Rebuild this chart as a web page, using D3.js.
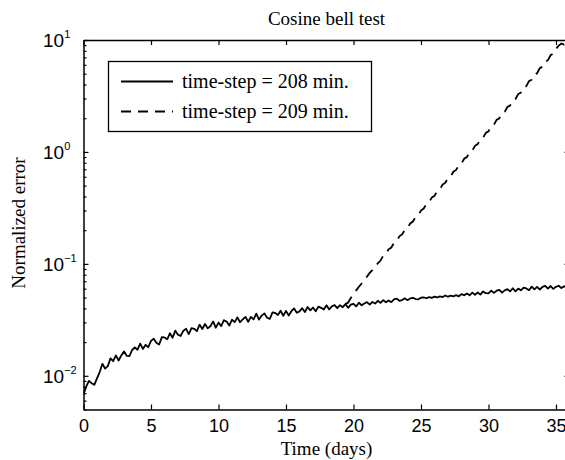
<!DOCTYPE html>
<html><head><meta charset="utf-8">
<script src="https://cdn.jsdelivr.net/npm/d3@7"></script>
<style>body{margin:0;background:#fff} svg{display:block}</style>
</head><body>
<svg id="chart" width="565" height="460"></svg>
<script>
const title = "Cosine bell test";
const xLabel = "Time (days)";
const yLabel = "Normalized error";
const seriesNames = ["time-step = 208 min.", "time-step = 209 min."];
const xTicks = [0, 5, 10, 15, 20, 25, 30, 35];
const yMajorExp = [-2, -1, 0, 1];
const dayStep = 0.2;
const start208 = 0;
const start209 = 19.4;
const error208 = [
0.0068,0.0080,0.0090,0.0086,0.0083,0.0095,0.0108,0.0128,0.0116,0.0122,
0.0143,0.0135,0.0152,0.0137,0.0152,0.0165,0.0151,0.0150,0.0170,0.0179,
0.0171,0.0194,0.0174,0.0189,0.0180,0.0205,0.0214,0.0197,0.0190,0.0221,
0.0220,0.0212,0.0240,0.0219,0.0253,0.0233,0.0227,0.0253,0.0263,0.0236,
0.0267,0.0263,0.0251,0.0286,0.0262,0.0290,0.0266,0.0277,0.0306,0.0269,
0.0299,0.0278,0.0314,0.0305,0.0281,0.0317,0.0302,0.0333,0.0301,0.0320,
0.0336,0.0304,0.0336,0.0319,0.0359,0.0318,0.0345,0.0361,0.0330,0.0323,
0.0368,0.0364,0.0349,0.0381,0.0344,0.0380,0.0346,0.0378,0.0400,0.0366,
0.0376,0.0402,0.0371,0.0412,0.0384,0.0407,0.0377,0.0415,0.0405,0.0391,
0.0426,0.0392,0.0418,0.0428,0.0402,0.0428,0.0410,0.0437,0.0405,0.0432,
0.0440,0.0417,0.0450,0.0427,0.0443,0.0455,0.0432,0.0457,0.0442,0.0468,
0.0448,0.0474,0.0454,0.0471,0.0455,0.0481,0.0489,0.0468,0.0475,0.0492,
0.0474,0.0491,0.0498,0.0485,0.0482,0.0499,0.0501,0.0493,0.0505,0.0497,
0.0509,0.0501,0.0513,0.0505,0.0522,0.0509,0.0521,0.0513,0.0525,0.0513,
0.0537,0.0524,0.0543,0.0524,0.0554,0.0530,0.0555,0.0531,0.0567,0.0547,
0.0545,0.0576,0.0551,0.0576,0.0585,0.0554,0.0580,0.0594,0.0568,0.0606,
0.0568,0.0601,0.0580,0.0613,0.0604,0.0582,0.0626,0.0592,0.0624,0.0590,
0.0622,0.0636,0.0602,0.0634,0.0598,0.0624,0.0638,0.0608,0.0632,0.0613,
0.0624
];
const error209 = [
0.0437,0.0452,0.0495,0.0540,0.0580,0.0625,0.0668,0.0720,0.0770,0.0830,
0.0880,0.0950,0.1010,0.1070,0.1181,0.1230,0.1349,0.1400,0.1541,0.1600,
0.1760,0.1830,0.2011,0.2090,0.2297,0.2390,0.2624,0.2720,0.2998,0.3120,
0.3424,0.3560,0.3912,0.4060,0.4469,0.4640,0.5105,0.5300,0.5832,0.6050,
0.6662,0.6900,0.7610,0.7880,0.8694,0.9000,0.9931,1.0300,1.1340,1.1750,
1.2960,1.3400,1.4800,1.5300,1.6910,1.7500,1.9320,2.0000,2.2070,2.2800,
2.5210,2.6000,2.8800,2.9700,3.2900,3.3900,3.7580,3.8700,4.2930,4.4200,
4.9050,5.0500,5.6030,5.7700,6.4000,6.6000,7.3110,7.5500,8.3500,8.9000,
9.3000,9.1000,9.6000,10.400
];

const x = d3.scaleLinear().domain([0, 36]).range([83.5, 569.5]);
const y = d3.scaleLog().domain([0.005, 10]).range([409.5, 40]);
const svg = d3.select("#chart");
const serif = "'Liberation Serif','Times New Roman',serif";
const sans = "'Liberation Sans',Arial,Helvetica,sans-serif";

svg.append("defs").append("clipPath").attr("id", "clip")
  .append("rect").attr("x", x(0)).attr("y", y(10)).attr("width", x(36) - x(0)).attr("height", y(0.005) - y(10));

const s208 = error208.map((v, i) => ({d: start208 + i * dayStep, v}));
const s209 = error209.map((v, i) => ({d: start209 + i * dayStep, v}));
const line = d3.line().x(p => x(p.d)).y(p => y(p.v));

const plot = svg.append("g").attr("clip-path", "url(#clip)");
plot.append("path").datum(s208).attr("d", line).attr("fill", "none")
  .attr("stroke", "#000").attr("stroke-width", 1.8).attr("stroke-linejoin", "round");
plot.append("path").datum(s209).attr("d", line).attr("fill", "none")
  .attr("stroke", "#000").attr("stroke-width", 1.8).attr("stroke-dasharray", "10,7");

const axStyle = g => { g.selectAll(".domain").attr("stroke", "#000").attr("stroke-width", 1.5);
  g.selectAll(".tick line").attr("stroke", "#000").attr("stroke-width", 1.2); };

const axBottom = svg.append("g").attr("transform", `translate(0,${y(0.005)})`)
  .call(d3.axisBottom(x).tickValues(xTicks).tickSizeInner(-5).tickSizeOuter(0).tickPadding(10).tickFormat(d3.format("d")));
axStyle(axBottom);
axBottom.selectAll(".tick text").attr("font-family", sans).attr("font-size", 18).attr("fill", "#000");

const axTop = svg.append("g").attr("transform", `translate(0,${y(10)})`)
  .call(d3.axisTop(x).tickValues(xTicks).tickSizeInner(-5).tickSizeOuter(0).tickFormat(""));
axStyle(axTop);

const majors = yMajorExp.map(e => Math.pow(10, e));
const minors = [];
yMajorExp.forEach(e => { for (let k = 2; k <= 9; k++) { const v = k * Math.pow(10, e); if (v <= 10) minors.push(v); } });
[0.005, 0.006, 0.007, 0.008, 0.009].forEach(v => minors.push(v));

const axLeft = svg.append("g").attr("transform", `translate(${x(0)},0)`)
  .call(d3.axisLeft(y).tickValues(majors).tickSizeInner(-5).tickSizeOuter(0).tickFormat(""));
axStyle(axLeft);
const axLeftMinor = svg.append("g").attr("transform", `translate(${x(0)},0)`)
  .call(d3.axisLeft(y).tickValues(minors).tickSizeInner(-3).tickSizeOuter(0).tickFormat(""));
axLeftMinor.select(".domain").remove();
axStyle(axLeftMinor);
const axRight = svg.append("g").attr("transform", `translate(${x(36)},0)`)
  .call(d3.axisRight(y).tickValues(majors).tickSizeInner(-5).tickSizeOuter(0).tickFormat(""));
axStyle(axRight);

yMajorExp.forEach(e => {
  const t = svg.append("text").attr("x", 43).attr("y", y(Math.pow(10, e)) + 7)
    .attr("font-family", sans).attr("font-size", 19).attr("fill", "#000");
  t.append("tspan").text("10");
  t.append("tspan").attr("dy", -9).attr("font-size", 11).text(e < 0 ? "\u2212" + Math.abs(e) : String(e));
});

svg.append("text").attr("x", (x(0) + x(36)) / 2).attr("y", 25).attr("text-anchor", "middle")
  .attr("font-family", serif).attr("font-size", 19).text(title);
svg.append("text").attr("x", (x(0) + x(36)) / 2).attr("y", 455).attr("text-anchor", "middle")
  .attr("font-family", serif).attr("font-size", 19).text(xLabel);
svg.append("text").attr("transform", `translate(25,223) rotate(-90)`).attr("text-anchor", "middle")
  .attr("font-family", serif).attr("font-size", 19).text(yLabel);

const lg = svg.append("g");
lg.append("rect").attr("x", 108.5).attr("y", 61.5).attr("width", 263).attr("height", 70)
  .attr("fill", "#fff").attr("stroke", "#000").attr("stroke-width", 1.3);
seriesNames.forEach((name, i) => {
  const ly = 81.5 + i * 30;
  lg.append("line").attr("x1", 121).attr("x2", 173).attr("y1", ly).attr("y2", ly)
    .attr("stroke", "#000").attr("stroke-width", 1.8).attr("stroke-dasharray", i === 1 ? "10,7" : null);
  lg.append("text").attr("x", 182).attr("y", ly + 6.5).attr("font-family", serif).attr("font-size", 20)
    .attr("fill", "#000").text(name);
});
</script>
</body></html>
